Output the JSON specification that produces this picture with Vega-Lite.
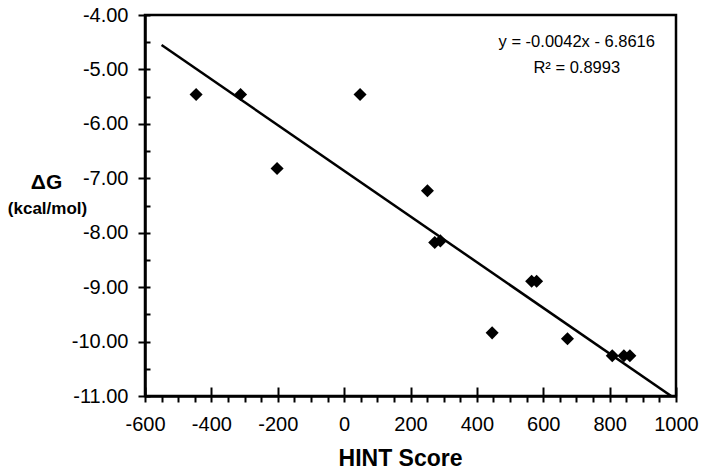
{
  "$schema": "https://vega.github.io/schema/vega-lite/v6.json",
  "width": 531,
  "height": 381,
  "autosize": {"type": "none"},
  "padding": {"left": 145, "top": 15, "right": 28, "bottom": 75},
  "background": "white",
  "config": {
    "locale": {"number": {"decimal": ".", "thousands": "", "grouping": [3], "currency": ["$", ""], "minus": "-"}},
    "view": {"stroke": "black", "strokeWidth": 2.5},
    "font": "Liberation Sans",
    "axis": {
      "grid": false,
      "domainColor": "black",
      "domainWidth": 2.5,
      "tickColor": "black",
      "tickWidth": 2,
      "labelColor": "black",
      "titleColor": "black",
      "labelFont": "Liberation Sans",
      "titleFont": "Liberation Sans",
      "labelOverlap": false,
      "labelFlush": false
    }
  },
  "resolve": {"axis": {"x": "independent", "y": "independent"}},
  "layer": [
    {
      "data": {"values": [
        {"hint": -446, "dg": -5.46},
        {"hint": -312, "dg": -5.46},
        {"hint": 48, "dg": -5.46},
        {"hint": -202, "dg": -6.82},
        {"hint": 251, "dg": -7.23},
        {"hint": 273, "dg": -8.18},
        {"hint": 290, "dg": -8.15},
        {"hint": 565, "dg": -8.89},
        {"hint": 580, "dg": -8.89},
        {"hint": 446, "dg": -9.84},
        {"hint": 673, "dg": -9.95},
        {"hint": 808, "dg": -10.26},
        {"hint": 843, "dg": -10.26},
        {"hint": 861, "dg": -10.26}
      ]},
      "mark": {"type": "point", "shape": "diamond", "filled": true, "color": "black", "size": 170, "opacity": 1},
      "encoding": {
        "x": {
          "field": "hint", "type": "quantitative",
          "scale": {"domain": [-600, 1000], "nice": false, "zero": false},
          "axis": {
            "orient": "bottom",
            "values": [-600,-550,-500,-450,-400,-350,-300,-250,-200,-150,-100,-50,0,50,100,150,200,250,300,350,400,450,500,550,600,650,700,750,800,850,900,950,1000],
            "format": "d",
            "labelExpr": "datum.value % 200 === 0 ? datum.label : ''",
            "tickSize": 6,
            "labelFontSize": 20,
            "labelPadding": 12,
            "title": "HINT Score",
            "titleFontSize": 23,
            "titleFontWeight": "bold",
            "titleX": 255,
            "titleY": 69,
            "titleBaseline": "alphabetic",
            "titleAlign": "center"
          }
        },
        "y": {
          "field": "dg", "type": "quantitative",
          "scale": {"domain": [-11, -4], "nice": false, "zero": false},
          "axis": {
            "orient": "left",
            "values": [-11,-10,-9,-8,-7,-6,-5,-4],
            "format": ".2f",
            "tickSize": 7,
            "labelFontSize": 20,
            "labelPadding": 10,
            "title": "ΔG",
            "titleAngle": 0,
            "titleFontSize": 21,
            "titleFontWeight": "bold",
            "titleX": -99,
            "titleY": 173,
            "titleAlign": "center",
            "titleBaseline": "alphabetic"
          }
        }
      }
    },
    {
      "data": {"values": [
        {"x": -550, "y": -4.5516},
        {"x": 1000, "y": -11.0616}
      ]},
      "mark": {"type": "line", "color": "black", "strokeWidth": 2.5, "clip": true},
      "encoding": {
        "x": {
          "field": "x", "type": "quantitative",
          "axis": {
            "orient": "bottom",
            "values": [-600,-400,-200,0,200,400,600,800,1000],
            "tickSize": -9,
            "labels": false,
            "domain": false,
            "title": null
          }
        },
        "y": {
          "field": "y", "type": "quantitative",
          "axis": {
            "orient": "left",
            "values": [-11,-10.5,-10,-9.5,-9,-8.5,-8,-7.5,-7,-6.5,-6,-5.5,-5,-4.5,-4],
            "tickSize": -5,
            "labels": false,
            "domain": false,
            "title": "(kcal/mol)",
            "titleAngle": 0,
            "titleFontSize": 17,
            "titleFontWeight": "bold",
            "titleX": -98,
            "titleY": 198,
            "titleAlign": "center",
            "titleBaseline": "alphabetic"
          }
        }
      }
    },
    {
      "data": {"values": [{"eq": "y = -0.0042x - 6.8616", "r2": "R² = 0.8993"}]},
      "mark": {"type": "text", "fontSize": 16.5, "color": "black", "align": "center", "baseline": "alphabetic"},
      "encoding": {
        "x": {"datum": 701, "type": "quantitative", "axis": null},
        "y": {"datum": -4.588, "type": "quantitative", "axis": null},
        "text": {"field": "eq"}
      }
    },
    {
      "data": {"values": [{"eq": "y = -0.0042x - 6.8616", "r2": "R² = 0.8993"}]},
      "mark": {"type": "text", "fontSize": 16.5, "color": "black", "align": "center", "baseline": "alphabetic"},
      "encoding": {
        "x": {"datum": 701, "type": "quantitative", "axis": null},
        "y": {"datum": -5.066, "type": "quantitative", "axis": null},
        "text": {"field": "r2"}
      }
    }
  ]
}
